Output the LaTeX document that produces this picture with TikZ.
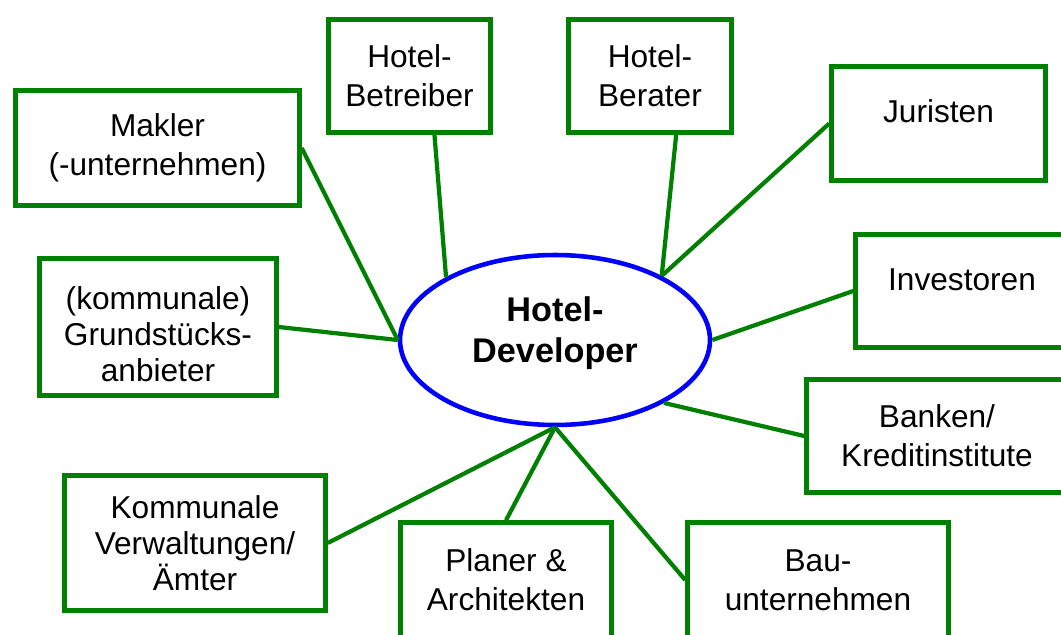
\documentclass[tikz,border=0pt]{standalone}
\usepackage{fontspec}
\setmainfont{Liberation Sans}
\usetikzlibrary{shapes.geometric}
\definecolor{boxgreen}{RGB}{0,128,0}

\begin{document}
\begin{tikzpicture}[x=0.02cm,y=-0.02cm,
  partner/.style={draw=boxgreen, line width=2.6pt, align=center, inner sep=0pt,
    font=\fontsize{18}{22}\selectfont},
  developer/.style={ellipse, draw=blue, line width=2.6pt, inner sep=0pt,
    minimum width=6.2cm, minimum height=3.4cm, align=center, text depth=0.42cm,
    font=\fontsize{19.5}{23}\selectfont\bfseries},
  link/.style={draw=boxgreen, line width=2.4pt}]
\useasboundingbox (0,0) rectangle (1061,635);
\clip (0,0) rectangle (1061,635);

\node[developer] (dev) at (555,340) {Hotel-\\Developer};

% left side
\node[partner, minimum width=5.68cm, minimum height=2.3cm] (makler) at (157.5,148) {Makler\\(-unternehmen)};
\node[partner, minimum width=4.74cm, minimum height=2.74cm, font=\fontsize{18}{20.5}\selectfont] (grund) at (158,327) {\rule{0pt}{0.74cm}(kommunale)\\Grundstücks-\\anbieter};
\node[partner, minimum width=5.22cm, minimum height=2.7cm, font=\fontsize{18}{20.5}\selectfont] (komm) at (195,543) {Kommunale\\Verwaltungen/\\Ämter};

% top
\node[partner, minimum width=3.24cm, minimum height=2.26cm] (betr) at (409.5,76) {Hotel-\\Betreiber};
\node[partner, minimum width=3.26cm, minimum height=2.26cm] (ber) at (650,76) {Hotel-\\Berater};

% right side
\node[partner, minimum width=4.28cm, minimum height=2.28cm, text depth=0.48cm] (jur) at (938.5,123.5) {Juristen};
\node[partner, minimum width=4.26cm, minimum height=2.26cm, text depth=0.44cm] (inv) at (962,291) {Investoren};
\node[partner, minimum width=5.22cm, minimum height=2.26cm] (bank) at (937,436) {Banken/\\Kreditinstitute};

% bottom
\node[partner, minimum width=4.22cm, minimum height=2.3cm] (plan) at (506,580) {Planer \&\\Architekten};
\node[partner, minimum width=5.22cm, minimum height=2.3cm] (bau) at (818,580) {Bau-\\unternehmen};

% connectors
\draw[link] (makler.east) -- (dev.west);
\draw[link] (grund.east) -- (dev.west);
\draw[link] (komm.east) -- (dev.south);
\draw[link] (betr.-67) -- (dev.150);
\draw[link] (ber.-66) -- (dev.31);
\draw[link] (jur.west) -- (dev.31);
\draw[link] (inv.west) -- (dev.east);
\draw[link] (bank.west) -- (dev.-30);
\draw[link] (plan.north) -- (dev.south);
\draw[link] (bau.west) -- (dev.south);
\end{tikzpicture}
\end{document}
